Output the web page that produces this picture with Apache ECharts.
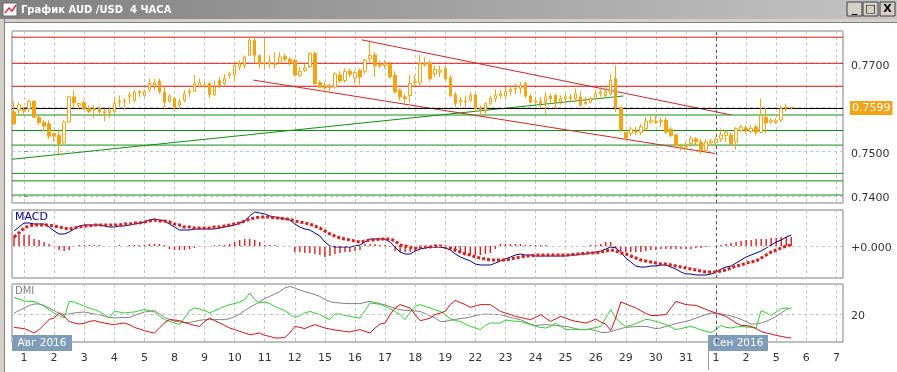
<!DOCTYPE html>
<html><head><meta charset="utf-8">
<script src="https://cdn.jsdelivr.net/npm/echarts@6/dist/echarts.min.js"></script>
<style>html,body{margin:0;padding:0;background:#fff;overflow:hidden}#c{width:897px;height:372px}</style>
</head><body><div id="c"></div>
<script>
// ---- data ----
const dayLabels = ['1','2','3','4','5','8','9','10','11','12','15','16','17','18','19','22','23','24','25','26','29','30','31','1','2','5','6','7'];
const candlesPerDay = 6;
const firstDayCandle = 2; // two candles before Aug 1
// [open, close, low, high]
const candles = [
[0.7590,0.7563,0.7561,0.7614],[0.7594,0.7606,0.7586,0.7612],[0.7596,0.7592,0.7582,0.7601],[0.7597,0.7614,0.7590,0.7616],
[0.7614,0.7578,0.7576,0.7616],[0.7578,0.7566,0.7561,0.7582],[0.7567,0.7558,0.7548,0.7571],[0.7563,0.7535,0.7528,0.7571],
[0.7541,0.7535,0.7523,0.7544],[0.7537,0.7518,0.7495,0.7551],[0.7520,0.7567,0.7518,0.7571],[0.7567,0.7624,0.7566,0.7626],
[0.7624,0.7611,0.7599,0.7639],[0.7605,0.7609,0.7597,0.7611],[0.7611,0.7597,0.7594,0.7616],[0.7598,0.7591,0.7587,0.7605],
[0.7595,0.7597,0.7576,0.7605],[0.7598,0.7590,0.7582,0.7601],[0.7591,0.7588,0.7569,0.7597],[0.7588,0.7594,0.7576,0.7599],
[0.7591,0.7609,0.7586,0.7624],[0.7612,0.7614,0.7601,0.7627],[0.7614,0.7615,0.7596,0.7620],[0.7625,0.7629,0.7609,0.7635],
[0.7616,0.7635,0.7612,0.7639],[0.7633,0.7636,0.7624,0.7639],[0.7627,0.7636,0.7624,0.7641],[0.7641,0.7655,0.7635,0.7665],
[0.7650,0.7656,0.7640,0.7665],[0.7660,0.7635,0.7631,0.7665],[0.7635,0.7612,0.7597,0.7646],[0.7614,0.7626,0.7611,0.7631],
[0.7620,0.7601,0.7596,0.7624],[0.7605,0.7614,0.7597,0.7620],[0.7616,0.7631,0.7612,0.7639],[0.7633,0.7636,0.7624,0.7643],
[0.7636,0.7654,0.7635,0.7674],[0.7650,0.7656,0.7646,0.7665],[0.7651,0.7648,0.7643,0.7658],[0.7654,0.7629,0.7621,0.7658],
[0.7629,0.7646,0.7626,0.7661],[0.7661,0.7650,0.7643,0.7669],[0.7654,0.7665,0.7650,0.7676],[0.7673,0.7676,0.7665,0.7680],
[0.7674,0.7695,0.7659,0.7699],[0.7691,0.7699,0.7684,0.7707],[0.7695,0.7714,0.7688,0.7718],[0.7718,0.7752,0.7716,0.7759],
[0.7752,0.7718,0.7699,0.7759],[0.7718,0.7699,0.7688,0.7718],[0.7701,0.7699,0.7688,0.7756],[0.7699,0.7703,0.7689,0.7718],
[0.7699,0.7697,0.7688,0.7725],[0.7703,0.7714,0.7699,0.7725],[0.7716,0.7709,0.7704,0.7722],[0.7709,0.7701,0.7695,0.7714],
[0.7707,0.7673,0.7669,0.7710],[0.7673,0.7682,0.7669,0.7692],[0.7684,0.7689,0.7680,0.7699],[0.7692,0.7722,0.7689,0.7725],
[0.7722,0.7654,0.7650,0.7727],[0.7656,0.7646,0.7643,0.7661],[0.7648,0.7644,0.7639,0.7658],[0.7645,0.7647,0.7637,0.7654],
[0.7646,0.7676,0.7643,0.7680],[0.7674,0.7660,0.7656,0.7682],[0.7661,0.7682,0.7656,0.7688],[0.7682,0.7675,0.7669,0.7688],
[0.7667,0.7679,0.7654,0.7684],[0.7684,0.7669,0.7652,0.7688],[0.7682,0.7707,0.7676,0.7710],[0.7710,0.7718,0.7701,0.7748],
[0.7719,0.7695,0.7669,0.7725],[0.7698,0.7695,0.7689,0.7707],[0.7695,0.7699,0.7688,0.7707],[0.7697,0.7669,0.7665,0.7704],
[0.7673,0.7635,0.7631,0.7682],[0.7639,0.7624,0.7616,0.7643],[0.7624,0.7620,0.7609,0.7631],[0.7627,0.7654,0.7612,0.7674],
[0.7656,0.7658,0.7646,0.7674],[0.7656,0.7699,0.7650,0.7719],[0.7699,0.7697,0.7692,0.7714],[0.7701,0.7665,0.7659,0.7707],
[0.7676,0.7686,0.7669,0.7695],[0.7680,0.7684,0.7669,0.7695],[0.7688,0.7665,0.7659,0.7695],[0.7667,0.7627,0.7624,0.7673],
[0.7629,0.7609,0.7601,0.7635],[0.7612,0.7616,0.7603,0.7624],[0.7614,0.7612,0.7601,0.7627],[0.7616,0.7627,0.7612,0.7635],
[0.7629,0.7597,0.7590,0.7631],[0.7598,0.7595,0.7582,0.7605],[0.7594,0.7609,0.7586,0.7612],[0.7609,0.7620,0.7605,0.7627],
[0.7620,0.7627,0.7612,0.7641],[0.7627,0.7631,0.7620,0.7639],[0.7626,0.7636,0.7620,0.7646],[0.7636,0.7641,0.7627,0.7650],
[0.7641,0.7643,0.7631,0.7654],[0.7643,0.7650,0.7631,0.7658],[0.7654,0.7626,0.7621,0.7658],[0.7626,0.7612,0.7609,0.7631],
[0.7612,0.7615,0.7609,0.7624],[0.7614,0.7609,0.7601,0.7624],[0.7611,0.7624,0.7586,0.7635],[0.7626,0.7620,0.7609,0.7631],
[0.7627,0.7612,0.7597,0.7631],[0.7614,0.7620,0.7606,0.7627],[0.7620,0.7624,0.7612,0.7631],[0.7624,0.7621,0.7612,0.7631],
[0.7620,0.7631,0.7614,0.7643],[0.7624,0.7605,0.7601,0.7637],[0.7612,0.7609,0.7605,0.7624],[0.7612,0.7620,0.7609,0.7624],
[0.7621,0.7631,0.7616,0.7641],[0.7631,0.7635,0.7624,0.7646],[0.7627,0.7636,0.7624,0.7646],[0.7631,0.7661,0.7627,0.7676],
[0.7665,0.7600,0.7590,0.7695],[0.7600,0.7550,0.7544,0.7601],[0.7544,0.7531,0.7526,0.7544],[0.7541,0.7551,0.7535,0.7556],
[0.7544,0.7546,0.7537,0.7556],[0.7544,0.7556,0.7538,0.7563],[0.7552,0.7569,0.7548,0.7578],[0.7567,0.7571,0.7563,0.7582],
[0.7569,0.7567,0.7563,0.7582],[0.7568,0.7570,0.7556,0.7578],[0.7571,0.7544,0.7541,0.7578],[0.7551,0.7537,0.7533,0.7556],
[0.7538,0.7514,0.7511,0.7541],[0.7511,0.7508,0.7503,0.7518],[0.7511,0.7514,0.7503,0.7522],[0.7518,0.7529,0.7511,0.7537],
[0.7529,0.7522,0.7514,0.7533],[0.7522,0.7503,0.7495,0.7529],[0.7503,0.7522,0.7499,0.7529],[0.7520,0.7524,0.7514,0.7529],
[0.7520,0.7528,0.7514,0.7533],[0.7529,0.7538,0.7522,0.7552],[0.7537,0.7544,0.7522,0.7548],[0.7538,0.7518,0.7514,0.7544],
[0.7522,0.7552,0.7505,0.7556],[0.7548,0.7556,0.7544,0.7561],[0.7554,0.7549,0.7541,0.7560],[0.7546,0.7553,0.7541,0.7560],
[0.7556,0.7544,0.7537,0.7560],[0.7544,0.7582,0.7541,0.7620],[0.7578,0.7565,0.7541,0.7599],[0.7567,0.7571,0.7563,0.7576],
[0.7567,0.7570,0.7563,0.7576],[0.7572,0.7597,0.7567,0.7605],[0.7599,0.7601,0.7591,0.7609],[0.7600,0.7599,0.7596,0.7601]
];
const currentPrice = 0.7599;
const resistanceLevels = [0.7759, 0.7700, 0.7648];
const supportLevels = [0.7583, 0.7548, 0.7515, 0.7451, 0.7434, 0.7402];
// trend lines: [[day, price], [day, price]]
const upperChannel = [[11.22, 0.7753], [23.52, 0.7583]];
const lowerChannel = [[7.62, 0.7662], [22.96, 0.7496]];
const riseLine = [[-0.39, 0.7483], [19.92, 0.7626]];
const monthStartDay = 23;
// MACD in units of 0.0001
const macdLine = [15,19,23,23,22,22,22,19,15,12,12,14,17,20,21,21,21,21,20,19,19,20,20,21,22,23,24,26,27,26,25,22,19,16,16,16,17,17,17,17,17,18,19,20,21,23,25,30,34,33,32,30,29,28,27,26,22,19,17,16,13,10,4,0,-1,-1,-1,-1,0,1,4,7,7,7,7,4,-1,-6,-8,-8,-5,-3,-2,-1,-1,-1,-2,-4,-8,-11,-13,-15,-18,-19,-19,-19,-17,-15,-13,-11,-9,-8,-9,-9,-10,-10,-10,-10,-10,-10,-10,-9,-9,-8,-8,-7,-6,-5,-3,-1,-2,-6,-12,-16,-20,-21,-21,-20,-20,-19,-19,-21,-23,-26,-28,-28,-29,-29,-29,-28,-26,-23,-21,-20,-17,-14,-11,-9,-7,-5,-2,1,4,6,9,11];
const signalLine = [9,13,18,20,21,21,21,21,20,19,18,17,18,19,20,20,21,21,21,21,21,21,22,22,23,23,24,25,26,25,25,24,22,21,19,19,18,18,18,18,19,19,20,21,22,23,25,27,28,29,29,29,28,28,27,27,25,24,23,22,20,18,15,12,10,8,7,6,5,4,5,6,6,7,7,7,5,1,0,-1,-2,-1,-1,-1,0,0,-1,-2,-4,-6,-8,-9,-11,-12,-13,-14,-14,-14,-14,-13,-12,-11,-10,-10,-9,-9,-9,-9,-9,-9,-9,-9,-8,-8,-7,-7,-7,-6,-5,-4,-5,-7,-8,-10,-12,-14,-15,-16,-17,-18,-18,-19,-20,-21,-22,-23,-24,-25,-26,-26,-26,-25,-24,-22,-20,-19,-17,-16,-15,-12,-9,-6,-4,-2,0,1];
const macdHist = [10,11,11,11,7,6,4,2,-1,-4,-5,-4,-1,1,1,1,1,1,0,0,0,1,0,1,1,1,1,2,2,2,1,-3,-4,-4,-4,-3,-2,-1,-1,0,1,1,1,2,4,6,7,7,6,4,1,1,1,0,0,-1,-6,-6,-7,-7,-8,-9,-11,-10,-8,-7,-6,-6,-5,-4,2,2,2,1,1,-1,-5,-6,-6,-6,-5,-3,-2,-2,-2,-2,-3,-4,-6,-7,-8,-9,-9,-9,-8,-7,-3,2,2,2,2,2,1,1,1,1,1,0,0,0,0,0,0,0,0,1,1,2,4,4,-2,-5,-6,-6,-6,-6,-5,-4,-4,-3,-3,-3,-3,-3,-3,-3,-2,-2,-1,0,0,1,2,3,4,5,6,6,7,7,7,8,8,9,9,9];
// DMI
const adx = [20.5,21.7,23,24.2,25,25,24.3,23,21.7,20.3,19.7,20,20.5,20.8,21,20.5,20,19.7,19,18.3,18,18.2,18.3,18.3,19.2,20.2,21,21.3,21.7,20,18.3,17.3,16.5,16,15.5,15.8,16.3,16.8,17.2,17.2,17.2,17.2,17.2,17.7,18.7,20,21.7,23.3,24.7,26,27.7,28.8,30,31.3,33,33.8,33,32,31.2,30.5,29.7,28.8,27.2,26.2,25.7,25.5,25.3,25.2,25.2,25.2,25.8,26.3,25.8,25.2,24.5,23.7,22.8,22.2,21.8,21.7,21.5,21.3,20.2,19,18,16.3,16.3,16.8,17.3,17.7,18,18.5,19.2,19.7,20,19.8,19.8,19.7,19,18.3,17.7,17.2,16,15,14.3,14.5,14.7,14.5,14.3,14,13.8,13.3,12.7,12.2,12.2,12.2,11.7,10.8,10.7,11.2,12,12.7,13.3,13.5,13.7,13.8,13.8,13.3,12.7,13,13.8,14.5,15.2,15.8,16.3,17,18,18.8,19.7,20.5,20.3,20,19.7,19,18.3,17.3,16.2,15,15,15.5,16.3,17.5,18.8,20.5,22.2,23];
const plusDI = [28.3,27.5,26.5,26.3,26.3,25.2,23.8,22.2,20.5,19.2,18,26.3,26,25,23.8,23,22.2,21.3,19.7,18,21.3,21,20.5,20.8,21,21.7,22.2,21.7,21,18.8,17.2,16.3,15.5,14.7,18,21.7,23,22.5,21.7,20.5,21.7,22.7,23.8,24.7,25.2,26,27.2,30.5,27.2,25.5,26,25.2,23.8,22.7,21.7,20,18.3,19.2,20.5,21.3,20.5,19.7,18.3,17.2,20,20,19.3,18.8,18.3,18,21.7,25.5,25.2,24.8,23.8,22.7,21.3,19.7,17.2,21,23.8,24.7,23.8,23,22,21.3,19.7,17.5,16.7,16.3,15,13.8,13,12.2,14.3,15.5,15.5,15.5,17,16.7,16.3,16.3,15.5,14.7,13.8,13.3,13,13.8,15.5,13.8,12.2,12.2,12.2,12.2,12.2,12.7,13.2,13.8,18,22.2,18,15.5,13.8,14.3,15.2,16.3,17.3,17,16.3,15.5,14.7,13.5,12.2,12.7,13.3,13.8,13,12,11.3,10.7,12.2,14.3,13.3,13,13.5,13.8,13.5,13.3,13,21.7,20.5,19.3,21,22.7,23,22.7];
const minusDI = [13.3,13,12.7,11.7,10.5,12.2,14.7,17.2,18,20.5,18.8,16.3,15.5,15,15.3,16.3,16.7,16,15.5,15,14.7,15.2,15.5,14.7,13.3,12.5,11.7,11,10.5,13,15.5,17.2,17,16.7,15.8,15,14.3,13.8,16.3,18,16.7,15.5,14.3,13,12.2,11.3,10.5,9.7,10,10.5,9.3,8.8,8,8,8.3,10.5,13.8,13.3,12.7,13.8,14.7,13.8,13,12.5,12,11.7,11.3,11,11.7,12.2,11.3,10.5,13,15,15.5,19.7,23,24.7,23.8,23,19.7,16.7,17.2,18,19.7,20.5,21.3,24.7,26.8,25.7,24.7,23.3,24,24.7,24.7,24.7,23,21.3,20.5,19.7,18.8,18.3,17.7,17.2,18.3,19.7,18,16.3,17.5,18.8,18,17,16.3,16,15.5,16.3,17.5,16,15,11.7,18,26,25,24,23,21.7,20.3,19.2,19.3,19.5,19.7,23,26.3,25.5,24.7,24.5,24.3,23.3,22.3,21.3,20.5,19.7,18.8,17.2,15.5,14.3,14.2,13.8,12.7,11.3,10.5,10,9.3,8.8,8.3,8];

// ---- chart ----
const chart = echarts.init(document.getElementById('c'), null, {renderer: 'canvas'});
const FONT = 'DejaVu Sans';
const X_MIN = -0.4, X_MAX = 27.22;
const dayOf = i => (i - firstDayCandle) / candlesPerDay;
const ORANGE = '#F2A414', RED = '#E01010', GREEN = '#109010', TREND_RED = '#C82828';
const grids = [
  {left: 12, right: 54, top: 31, height: 172},
  {left: 12, right: 54, top: 210, height: 68},
  {left: 12, right: 54, top: 284, height: 58}
].map(g => Object.assign(g, {show: true, borderColor: '#7c7c7c', borderWidth: 1, backgroundColor: '#fff'}));
const dashed = () => ({show: true, lineStyle: {color: '#c4c4c4', type: [3, 3], width: 1}});
const xAxes = [0, 1, 2].map(gi => ({
  type: 'value', gridIndex: gi, min: X_MIN, max: X_MAX, splitNumber: 28, minInterval: 1, maxInterval: 1,
  axisLine: {show: false}, axisTick: {show: false}, splitLine: dashed(),
  axisLabel: {
    show: gi === 2, margin: 11, fontFamily: FONT, fontSize: 11, color: '#333',
    showMinLabel: false, showMaxLabel: false,
    formatter: v => { const r = Math.round(v); return Math.abs(v - r) < 1e-6 && r >= 0 && r < dayLabels.length ? dayLabels[r] : ''; }
  }
}));
const yLabel = () => ({fontFamily: FONT, fontSize: 11, color: '#333', margin: 8, verticalAlign: 'top', lineHeight: 5, showMinLabel: false, showMaxLabel: false});
const yAxes = [
  {type: 'value', gridIndex: 0, position: 'right', min: 0.7384, max: 0.7773, minInterval: 0.01, maxInterval: 0.01,
   axisLine: {show: false}, axisTick: {show: true, length: 4, lineStyle: {color: '#888'}}, splitLine: dashed(),
   axisLabel: Object.assign(yLabel(), {formatter: v => Math.abs(v - 0.76) < 1e-6 ? '' : v.toFixed(4)})},
  {type: 'value', gridIndex: 1, position: 'right', min: -32, max: 36,
   axisLine: {show: false}, axisTick: {show: false}, splitLine: {show: false},
   axisLabel: Object.assign(yLabel(), {formatter: v => v === 0 ? '+0.000' : ''})},
  {type: 'value', gridIndex: 2, position: 'right', min: 6, max: 35,
   axisLine: {show: false}, axisTick: {show: false}, splitLine: {show: false},
   axisLabel: Object.assign(yLabel(), {formatter: v => v === 20 ? '20' : ''})}
];
const levelMark = (items, color, type, extra) => Object.assign({
  silent: true, symbol: 'none', animation: false, precision: 6, label: {show: false},
  lineStyle: {color: color, width: 1, type: type || 'solid'}, emphasis: {disabled: true}, data: items
}, extra || {});
const seg = (pts, color, extra) => Object.assign({
  type: 'line', xAxisIndex: 0, yAxisIndex: 0, symbol: 'none', z: 4, silent: true,
  data: pts, lineStyle: {color: color, width: 1}, itemStyle: {color: color}, emphasis: {disabled: true}
}, extra || {});
const level = (v, color) => seg([[X_MIN, v], [X_MAX, v]], color, {z: 3});
const helper = (xi, extra) => Object.assign({
  type: 'line', xAxisIndex: xi, yAxisIndex: xi, symbol: 'none', silent: true, data: [], z: 2
}, extra);

const series = [
  {
    type: 'candlestick', xAxisIndex: 0, yAxisIndex: 0, barWidth: 3, z: 6,
    data: candles.map((c, i) => [dayOf(i), c[0], c[1], c[2], c[3]]),
    itemStyle: {color: '#fff', color0: ORANGE, borderColor: ORANGE, borderColor0: ORANGE, borderWidth: 1}
  },
  ...resistanceLevels.map(v => level(v, RED)),
  ...supportLevels.map(v => level(v, GREEN)),
  seg(riseLine, GREEN),
  seg(upperChannel, TREND_RED),
  seg(lowerChannel, TREND_RED),
  helper(0, {markLine: levelMark([{yAxis: currentPrice}], '#000', 'solid', {
    label: {show: true, position: 'end', distance: 7, formatter: currentPrice.toFixed(4),
      backgroundColor: ORANGE, color: '#fff', padding: [2, 2, 1, 2], fontFamily: FONT, fontSize: 11}})}),
  helper(0, {markLine: levelMark([{xAxis: monthStartDay}], '#555', [3, 3])}),
  {
    type: 'bar', xAxisIndex: 1, yAxisIndex: 1, barWidth: 1.4, z: 2,
    data: macdHist.map((v, i) => [dayOf(i), v]), itemStyle: {color: '#D81E1E'}
  },
  helper(1, {markLine: levelMark([{yAxis: 0}], '#c4c4c4', [3, 3])}),
  helper(1, {markLine: levelMark([{xAxis: monthStartDay}], '#555', [3, 3])}),
  {type: 'line', xAxisIndex: 1, yAxisIndex: 1, symbol: 'none', z: 3,
   data: macdLine.map((v, i) => [dayOf(i), v]), lineStyle: {color: '#000080', width: 1}},
  {type: 'line', xAxisIndex: 1, yAxisIndex: 1, symbol: 'none', z: 4,
   data: signalLine.map((v, i) => [dayOf(i), v]), lineStyle: {color: '#D81E1E', width: 3, type: [3, 2]}},
  helper(2, {markLine: levelMark([{yAxis: 20}], '#c4c4c4', [3, 3])}),
  helper(2, {markLine: levelMark([{xAxis: monthStartDay}], '#555', [3, 3])}),
  {type: 'line', xAxisIndex: 2, yAxisIndex: 2, symbol: 'none', z: 3,
   data: adx.map((v, i) => [dayOf(i), v]), lineStyle: {color: '#808080', width: 1}},
  {type: 'line', xAxisIndex: 2, yAxisIndex: 2, symbol: 'none', z: 4,
   data: plusDI.map((v, i) => [dayOf(i), v]), lineStyle: {color: '#33CC33', width: 1}},
  {type: 'line', xAxisIndex: 2, yAxisIndex: 2, symbol: 'none', z: 5,
   data: minusDI.map((v, i) => [dayOf(i), v]), lineStyle: {color: '#CC1414', width: 1}}
];

const monthBox = (x, text) => ({type: 'group', z: 50, children: [
  {type: 'rect', shape: {x: x, y: 335, width: 60, height: 16}, style: {fill: '#7F9CB8'}},
  {type: 'text', x: x + 30, y: 343, style: {text: text, fill: '#fff', font: '10.5px "DejaVu Sans"', align: 'center', verticalAlign: 'middle'}}
]});

const graphic = [
  {type: 'rect', z: 0, shape: {x: 0, y: 0, width: 897, height: 19},
   style: {fill: new echarts.graphic.LinearGradient(0, 0, 1, 0, [{offset: 0, color: '#808080'}, {offset: 1, color: '#c4c4c4'}])}},
  {type: 'rect', z: 1, shape: {x: 3, y: 3, width: 14, height: 13}, style: {fill: '#fff', stroke: '#666', lineWidth: 1}},
  {type: 'polyline', z: 2, shape: {points: [[5, 13], [9, 8], [12, 11], [16, 5]]}, style: {stroke: '#d03030', lineWidth: 1.5, fill: null}},
  {type: 'text', z: 2, x: 21, y: 10, style: {text: 'График AUD /USD  4 ЧАСА', fill: '#fff', font: 'bold 10px "DejaVu Sans"', verticalAlign: 'middle'}},
  ...[['_', 847], ['□', 863], ['X', 880]].map(([t, x]) => ({type: 'group', z: 2, children: [
    {type: 'rect', shape: {x: x, y: 2, width: 15, height: 14}, style: {fill: '#d4d0c8', stroke: '#404040', lineWidth: 1}},
    {type: 'text', x: x + 7.5, y: 9.5, style: {text: t, fill: '#000', font: 'bold 11px "DejaVu Sans"', align: 'center', verticalAlign: 'middle'}}
  ]})),
  {type: 'rect', z: 0, shape: {x: 0, y: 19, width: 4, height: 353}, style: {fill: '#d4d0c8'}},
  {type: 'line', z: 1, shape: {x1: 4.5, y1: 19, x2: 4.5, y2: 372}, style: {stroke: '#808080', lineWidth: 1}},
  {type: 'rect', z: 0, shape: {x: 4, y: 19, width: 893, height: 3}, style: {fill: '#d4d0c8'}},
  {type: 'line', z: 1, shape: {x1: 4, y1: 22.5, x2: 897, y2: 22.5}, style: {stroke: '#808080', lineWidth: 1}},
  {type: 'text', z: 10, x: 15, y: 217, style: {text: 'MACD', fill: '#000080', font: '11px "DejaVu Sans"', verticalAlign: 'middle'}},
  {type: 'text', z: 10, x: 15, y: 291, style: {text: 'DMI', fill: '#808080', font: '10px "DejaVu Sans"', verticalAlign: 'middle'}},
  {type: 'line', z: 49, shape: {x1: 708.5, y1: 335, x2: 708.5, y2: 370}, style: {stroke: '#9a9a9a', lineWidth: 1}},
  monthBox(12, 'Авг 2016'),
  monthBox(708, 'Сен 2016')
];

chart.setOption({animation: false, backgroundColor: '#fff', grid: grids, xAxis: xAxes, yAxis: yAxes, series: series, graphic: graphic});
</script>
</body></html>
